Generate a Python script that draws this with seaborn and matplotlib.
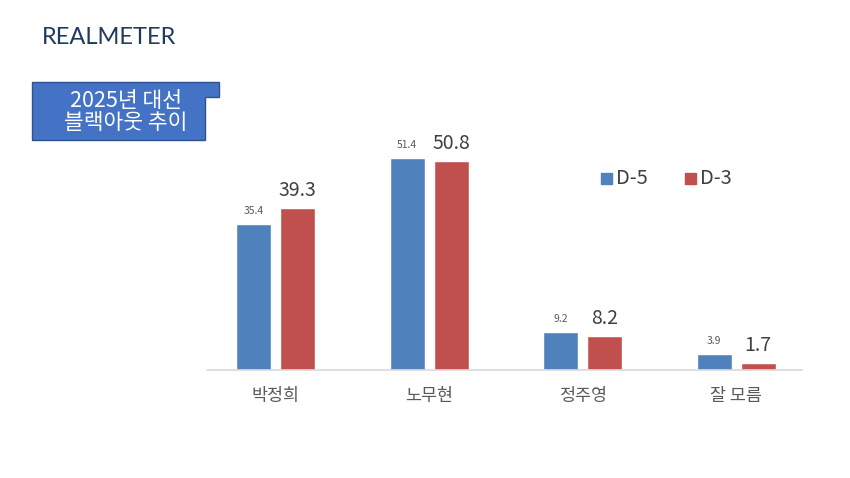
import numpy as np
import pandas as pd
import matplotlib.pyplot as plt
import seaborn as sns
from matplotlib.patches import Polygon

# data
categories = ["박정희", "노무현", "정주영", "잘 모름"]
d5 = [35.4, 51.4, 9.2, 3.9]
d3 = [39.3, 50.8, 8.2, 1.7]
series = ["D-5", "D-3"]
colors = ["#4F81BD", "#C0504D"]

df = pd.DataFrame({
    "cat": categories * 2,
    "value": d5 + d3,
    "series": [series[0]] * 4 + [series[1]] * 4,
})

sns.set_style("white")
plt.rcParams["font.family"] = ["Noto Sans CJK KR", "DejaVu Sans"]

W, H = 850, 478
fig = plt.figure(figsize=(8.5, 4.78), dpi=100)
ax = fig.add_axes([199 / W, (H - 370) / H, 614 / W, 270 / H])

sns.barplot(data=df, x="cat", y="value", hue="series", palette=colors,
            width=0.573, gap=0.2, ax=ax, legend=False, saturation=1)

ax.set_ylim(0, 65.5)
ax.set_xlim(-0.5, 3.5)
ax.set_xlabel("")
ax.set_ylabel("")
ax.set_yticks([])
for s in ["top", "right", "left"]:
    ax.spines[s].set_visible(False)
ax.spines["bottom"].set_color("#D9D9D9")
ax.spines["bottom"].set_linewidth(1.2)
ax.spines["bottom"].set_bounds(-0.45, 3.43)
ax.tick_params(axis="x", length=0, pad=12, labelsize=12.5, labelcolor="#595959")

# value labels
for i, c in enumerate(ax.containers):
    for bar, v in zip(c, d5 if i == 0 else d3):
        x = bar.get_x() + bar.get_width() / 2
        y = bar.get_height()
        if i == 0:
            ax.annotate(f"{v:.1f}", (x, y), xytext=(0, 6), textcoords="offset points",
                        ha="center", va="bottom", fontsize=7.5, color="#595959")
        else:
            ax.annotate(f"{v:.1f}", (x, y), xytext=(0, 5), textcoords="offset points",
                        ha="center", va="bottom", fontsize=14, color="#404040")

# legend
fig.patches.append(plt.Rectangle((601 / W, (H - 184) / H), 11 / W, 11 / H,
                                 transform=fig.transFigure, color=colors[0]))
fig.text(616 / W, (H - 178) / H, "D-5", fontsize=14.5, color="#404040", va="center")
fig.patches.append(plt.Rectangle((685 / W, (H - 184) / H), 11 / W, 11 / H,
                                 transform=fig.transFigure, color=colors[1]))
fig.text(700 / W, (H - 178) / H, "D-3", fontsize=14.5, color="#404040", va="center")

# title box
pts = [(32, 82), (219, 82), (219, 97), (205, 97), (205, 140), (32, 140)]
poly = Polygon([(x / W, (H - y) / H) for x, y in pts], closed=True,
               transform=fig.transFigure, facecolor="#4472C4", edgecolor="#2F528F", linewidth=1)
fig.patches.append(poly)
fig.text(126 / W, (H - 112) / H, "2025년 대선\n블랙아웃 추이", ha="center", va="center",
         fontsize=15.5, color="white", linespacing=1.05)

# logo
fig.text(42 / W, (H - 37) / H, "REALMETER", ha="left", va="center", fontsize=17,
         color="#1F3A5F", family=["Lato", "DejaVu Sans"])

fig.savefig("out.png", dpi=100)
